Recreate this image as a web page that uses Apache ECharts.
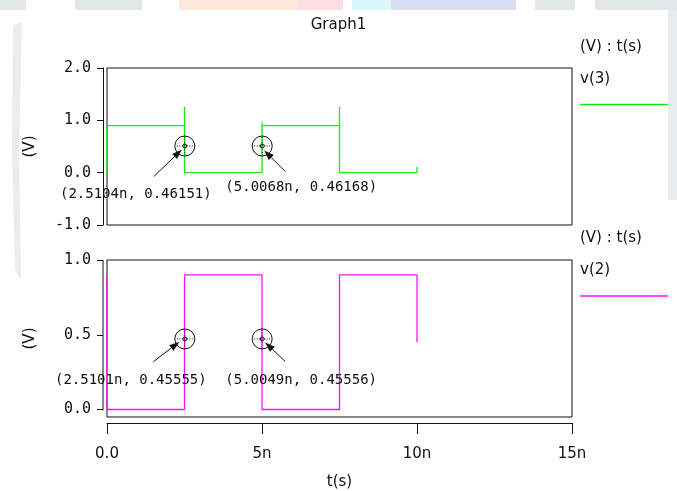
<!DOCTYPE html>
<html><head><meta charset="utf-8">
<script src="https://cdn.jsdelivr.net/npm/echarts@6/dist/echarts.min.js"></script>
<style>html,body{margin:0;padding:0;background:#fff}#c{width:677px;height:491px}</style>
</head><body><div id="c"></div>
<script>
// ---- data ----
const chartTitle = 'Graph1';
const xTicks = [0, 5, 10, 15];           // ns
const yTopTicks = [-1, 0, 1, 2];
const yBotTicks = [0, 0.5, 1];
const axisUnits = '(V) : t(s)';
const yName = '(V)';
const xName = 't(s)';
const v3Name = 'v(3)';
const v2Name = 'v(2)';
const v3T = [0, 0, 2.5, 2.5, 2.5, 5, 5, 5, 7.5, 7.5, 7.5, 10, 10];
const v3V = [0, 0.9, 0.9, 1.26, 0, 0, 0.96, 0.9, 0.9, 1.26, 0, 0, 0.11];
const v2T = [0, 0, 2.5, 2.5, 5, 5, 7.5, 7.5, 10, 10];
const v2V = [0.9, 0, 0, 0.9, 0.9, 0, 0, 0.9, 0.9, 0.45];
const curTopT = [2.5104, 5.0068];
const curTopV = [0.46151, 0.46168];
const curBotT = [2.5101, 5.0049];
const curBotV = [0.45555, 0.45556];

const SANS = 'DejaVu Sans';
const MONO = 'DejaVu Sans Mono';
const GREEN = '#11ee11';
const MAG = '#ff11ff';
const zip = (a, b) => a.map((x, i) => [x, b[i]]);

const chart = echarts.init(document.getElementById('c'), null, {renderer: 'canvas'});

const fmtY = v => v.toFixed(1);
const fmtX = v => v === 0 ? '0.0' : (v + 'n');

const option = {
  animation: false,
  backgroundColor: '#fff',
  title: {text: chartTitle, left: 'center', top: 18, padding: 0,
    textStyle: {fontFamily: SANS, fontSize: 15, fontWeight: 'normal', color: '#111'}},
  grid: [
    {left: 107, top: 68, width: 465, height: 157, show: true, borderColor: '#111', borderWidth: 1, backgroundColor: 'transparent'},
    {left: 107, top: 260, width: 465, height: 158, show: true, borderColor: '#111', borderWidth: 1, backgroundColor: 'transparent'}
  ],
  xAxis: [
    {type: 'value', gridIndex: 0, min: xTicks[0], max: xTicks[xTicks.length - 1], show: false},
    {type: 'value', gridIndex: 1, min: xTicks[0], max: xTicks[xTicks.length - 1], interval: 5,
      position: 'bottom', offset: 6,
      name: xName, nameLocation: 'middle', nameGap: 52,
      nameTextStyle: {fontFamily: SANS, fontSize: 15, color: '#111'},
      axisLine: {show: true, onZero: false, lineStyle: {color: '#111', width: 1}},
      axisTick: {show: true, length: 11, lineStyle: {color: '#111'}},
      axisLabel: {formatter: fmtX, margin: 24, fontFamily: SANS, fontSize: 15, color: '#111'},
      splitLine: {show: false}}
  ],
  yAxis: [
    {type: 'value', gridIndex: 0, min: yTopTicks[0], max: yTopTicks[yTopTicks.length - 1], interval: 1,
      offset: 4, name: yName, nameLocation: 'middle', nameGap: 65, nameRotate: 90,
      nameTextStyle: {fontFamily: SANS, fontSize: 15, color: '#111'},
      axisLine: {show: true, onZero: false, lineStyle: {color: '#111', width: 1}},
      axisTick: {show: true, length: 6, lineStyle: {color: '#111'}},
      axisLabel: {formatter: fmtY, margin: 12, fontFamily: MONO, fontSize: 15, color: '#111'},
      splitLine: {show: false}},
    {type: 'value', gridIndex: 1, min: -0.05, max: yBotTicks[yBotTicks.length - 1],
      offset: 4, name: yName, nameLocation: 'middle', nameGap: 65, nameRotate: 90,
      nameTextStyle: {fontFamily: SANS, fontSize: 15, color: '#111'},
      axisLine: {show: false, onZero: false},
      axisTick: {show: true, length: 6, customValues: yBotTicks, lineStyle: {color: '#111'}},
      axisLabel: {formatter: fmtY, margin: 12, customValues: yBotTicks, fontFamily: MONO, fontSize: 15, color: '#111'},
      splitLine: {show: false}}
  ],
  series: [
    {name: v3Name, type: 'line', xAxisIndex: 0, yAxisIndex: 0, data: zip(v3T, v3V),
      showSymbol: false, symbol: 'none', lineStyle: {color: GREEN, width: 1.3}, z: 3},
    {name: v2Name, type: 'line', xAxisIndex: 1, yAxisIndex: 1, data: zip(v2T, v2V),
      showSymbol: false, symbol: 'none', lineStyle: {color: MAG, width: 1.3}, z: 3}
  ]
};
chart.setOption(option);

// ---- overlay graphics (legend, cursors, partial axis line, watermark) ----
const els = [];
const wm = [
  [0, 0, 26, 10, '#e2e7ea'], [75, 0, 67, 10, '#e2e7ea'], [179, 0, 119, 10, '#fde9d8'],
  [298, 0, 45, 10, '#fcdfe0'], [352, 0, 39, 10, '#dcf7fa'], [391, 0, 125, 10, '#d9e0f3'],
  [535, 0, 40, 10, '#e2e7ea'], [595, 0, 82, 10, '#e2e7ea'], [668, 10, 9, 190, '#e8ecee']
];
wm.forEach(r => els.push({type: 'rect', z: -10, silent: true, shape: {x: r[0], y: r[1], width: r[2], height: r[3]}, style: {fill: r[4]}}));
els.push({type: 'polygon', z: -10, silent: true, shape: {points: [[13, 25], [22, 22], [19, 150], [21, 280], [15, 270], [12, 150]]}, style: {fill: '#e9edef'}});

// bottom y-axis line spans only 0..1
const b0 = chart.convertToPixel({gridIndex: 1}, [0, yBotTicks[0]]);
const b1 = chart.convertToPixel({gridIndex: 1}, [0, yBotTicks[yBotTicks.length - 1]]);
els.push({type: 'line', shape: {x1: b0[0] - 4, y1: b0[1] + 1, x2: b0[0] - 4, y2: b1[1]}, style: {stroke: '#111', lineWidth: 1}});

function legend(y0, name, color) {
  els.push({type: 'text', style: {text: axisUnits, x: 580, y: y0, verticalAlign: 'middle', font: '15px ' + SANS, fill: '#111'}});
  els.push({type: 'text', style: {text: name, x: 580, y: y0 + 32, verticalAlign: 'middle', font: '15px ' + SANS, fill: '#111'}});
  els.push({type: 'line', shape: {x1: 580, y1: y0 + 57.5, x2: 668, y2: y0 + 57.5}, style: {stroke: color, lineWidth: 1.3}});
}
legend(47, v3Name, GREEN);
legend(238.5, v2Name, MAG);

function cursor(grid, t, v, lab, tail, tip) {
  const p = chart.convertToPixel({gridIndex: grid}, [t, v]);
  const cx = p[0], cy = p[1] - 2.5;
  els.push({type: 'circle', shape: {cx: cx, cy: cy, r: 10}, style: {fill: 'none', stroke: '#111', lineWidth: 1}, z: 10});
  els.push({type: 'line', shape: {x1: cx - 8, y1: cy, x2: cx + 8, y2: cy}, style: {stroke: '#111', lineWidth: 1, lineDash: [1, 1.5]}, z: 10});
  els.push({type: 'line', shape: {x1: cx, y1: cy - 9, x2: cx, y2: cy + 9}, style: {stroke: '#111', lineWidth: 1, lineDash: [1, 1.5]}, z: 10});
  els.push({type: 'circle', shape: {cx: cx, cy: cy, r: 2}, style: {fill: 'none', stroke: '#111', lineWidth: 1}, z: 10});
  const tx = p[0] + tail[0], ty = p[1] + tail[1];
  const hx = p[0] + tip[0], hy = p[1] + tip[1];
  const dx = hx - tx, dy = hy - ty, L = Math.hypot(dx, dy), ux = dx / L, uy = dy / L;
  const hl = 10, hw = 3.5;
  const bx = hx - ux * hl, by = hy - uy * hl;
  els.push({type: 'line', shape: {x1: tx, y1: ty, x2: bx, y2: by}, style: {stroke: '#111', lineWidth: 1}, z: 11});
  els.push({type: 'polygon', shape: {points: [[hx, hy], [bx - uy * hw, by + ux * hw], [bx + uy * hw, by - ux * hw]]}, style: {fill: '#111'}, z: 11});
  els.push({type: 'text', z: 12, style: {text: '(' + t + 'n, ' + v + ')', x: p[0] + lab[0], y: p[1] + lab[1], align: 'center', verticalAlign: 'middle', font: '14px ' + MONO, fill: '#111'}});
}
cursor(0, curTopT[0], curTopV[0], [-49, 46], [-31, 28], [-3, 1]);
cursor(0, curTopT[1], curTopV[1], [39, 39], [23, 23], [2, 2]);
cursor(1, curBotT[0], curBotV[0], [-54, 39.4], [-31.5, 20.4], [-5.5, 0.4]);
cursor(1, curBotT[1], curBotV[1], [39, 39.4], [23, 20], [3, 1]);

chart.setOption({graphic: {elements: els}});
</script></body></html>
